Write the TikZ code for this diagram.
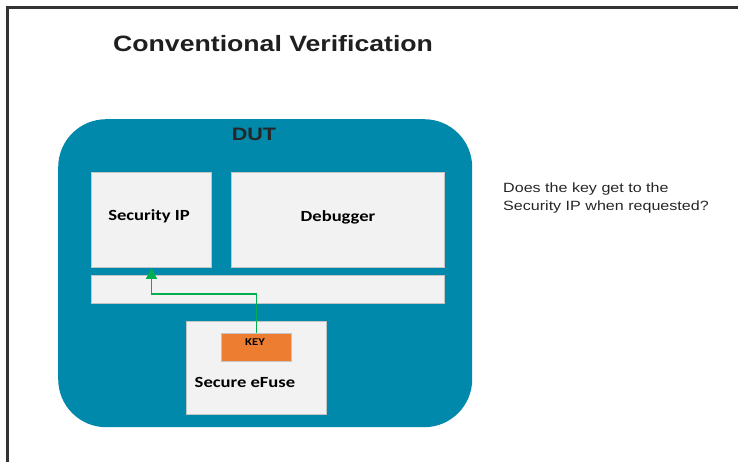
\documentclass[tikz,border=0pt]{standalone}
\usepackage{fontspec}
\setmainfont{Liberation Sans}[FakeStretch=1.2]
\newfontfamily\calfont{Carlito}[FakeStretch=1.2]
\usetikzlibrary{arrows.meta,calc}
\definecolor{dutteal}{HTML}{0089AA}
\definecolor{boxfill}{HTML}{F2F2F2}
\definecolor{boxline}{HTML}{C4C4C4}
\definecolor{keyorange}{HTML}{ED7D31}
\definecolor{pathgreen}{HTML}{00B050}
\definecolor{framegray}{HTML}{333333}
\tikzset{
  block/.style={draw=boxline, line width=0.9pt, fill=boxfill, anchor=north west, inner sep=0pt},
  blocklabel/.style={font=\calfont\bfseries\fontsize{15.5}{18}\selectfont, anchor=base, inner sep=0pt},
  keypath/.style={draw=pathgreen, line width=1.3pt, -{Triangle[width=11pt,length=11pt]}},
}
\begin{document}
\begin{tikzpicture}[x=1pt, y=-1pt]
  \useasboundingbox (0,0) rectangle (738,462);
  % page frame
  \draw[framegray, line width=2.4pt] (7.5,462) -- (7.5,7.5) -- (738,7.5);
  % title
  \node[anchor=base west, inner sep=0pt, font=\bfseries\fontsize{22.2}{26}\selectfont, text=black!88] (title) at (113,52) {Conventional Verification};
  % device under test
  \node[fill=dutteal, rounded corners=48pt, minimum width=414pt, minimum height=308pt, anchor=north west, inner sep=0pt] (dut) at (58,119) {};
  \node[anchor=base, inner sep=0pt, font=\bfseries\fontsize{18}{21}\selectfont, text=black!85] (dutlabel) at (254,141) {DUT};
  % blocks inside the DUT
  \node[block, minimum width=120pt, minimum height=95pt] (secip) at (91,172) {};
  \node[block, minimum width=213pt, minimum height=95pt] (dbg) at (231,172) {};
  \node[block, minimum width=353pt, minimum height=28pt] (bus) at (91,275) {};
  \node[block, minimum width=140pt, minimum height=93pt] (efuse) at (186,321) {};
  \node[draw=boxline, line width=0.9pt, fill=keyorange, anchor=north west, minimum width=70pt, minimum height=28pt, inner sep=0pt] (key) at (221,333) {};
  % block labels
  \node[blocklabel] (seciplabel) at (149,221) {Security IP};
  \node[blocklabel] (dbglabel) at (338,222) {Debugger};
  \node[blocklabel] (efuselabel) at (245,387) {Secure eFuse};
  \node[blocklabel, font=\calfont\bfseries\fontsize{10.5}{12}\selectfont] (keylabel) at (255,345) {KEY};
  % key delivery path
  \coordinate (bend) at ($(key.north)+(0,-39)$);
  \draw[keypath] (key.north) -- (bend) -| (secip.south);
  % question
  \node[anchor=north west, inner sep=0pt, align=left, font=\fontsize{13.4}{18}\selectfont, text=black!85] (question) at (503,183) {Does the key get to the\\Security IP when requested?};
\end{tikzpicture}
\end{document}
